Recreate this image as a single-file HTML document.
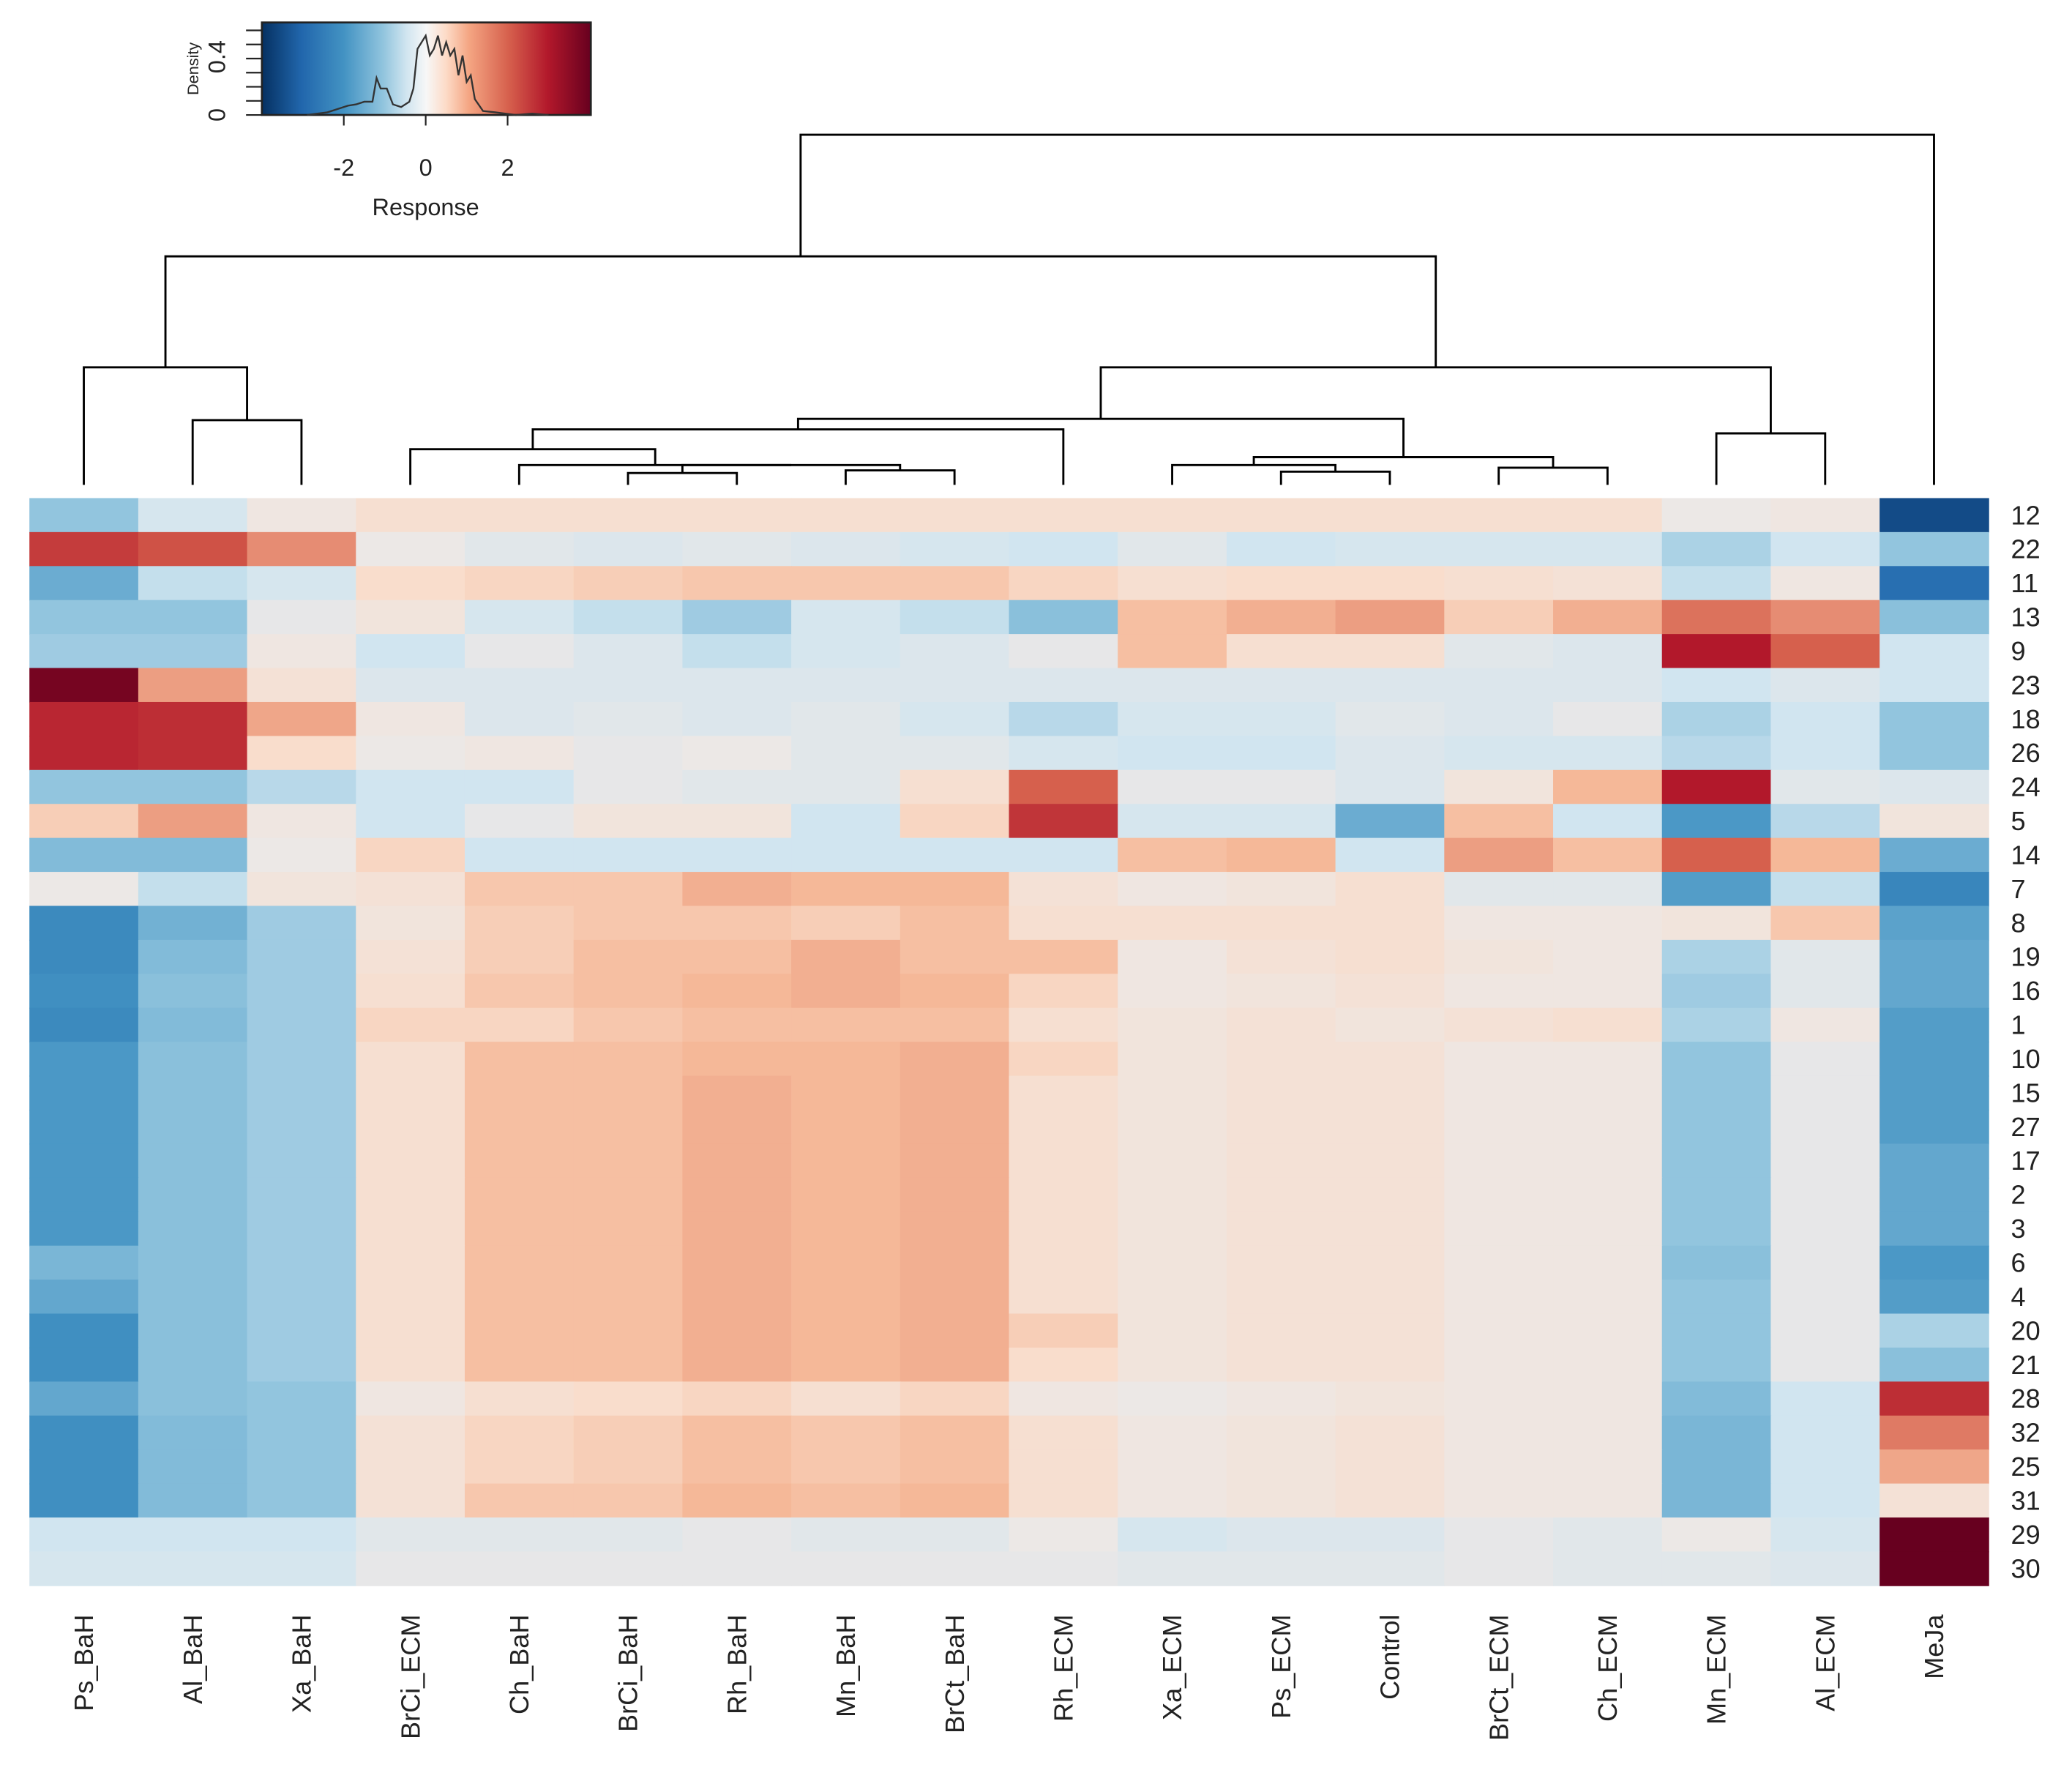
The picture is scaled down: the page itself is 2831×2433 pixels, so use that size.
<!DOCTYPE html>
<html><head><meta charset="utf-8"><style>
html,body{margin:0;padding:0;background:#fff}
svg{display:block;font-family:"Liberation Sans",sans-serif}
</style></head><body>
<svg id="chart" width="2831" height="2433" viewBox="0 0 1568 1348" xmlns="http://www.w3.org/2000/svg">
<defs>
<linearGradient id="grad" x1="0" x2="1" y1="0" y2="0">
<stop offset="0" stop-color="#053061"/><stop offset="0.12" stop-color="#2166ac"/><stop offset="0.25" stop-color="#4393c3"/><stop offset="0.37" stop-color="#92c5de"/><stop offset="0.44" stop-color="#d1e5f0"/><stop offset="0.5" stop-color="#f7f7f7"/><stop offset="0.56" stop-color="#fddbc7"/><stop offset="0.63" stop-color="#f4a582"/><stop offset="0.75" stop-color="#d6604d"/><stop offset="0.87" stop-color="#b2182b"/><stop offset="1" stop-color="#67001f"/>
</linearGradient>
</defs>
<g id="legend"></g>
<g id="dendro"></g>
<g id="cells"></g>
<g id="rowlabels"></g>
<g id="collabels"></g>
</svg>
<script>
const columns=["Ps_BaH","Al_BaH","Xa_BaH","BrCi_ECM","Ch_BaH","BrCi_BaH","Rh_BaH","Mn_BaH","BrCt_BaH","Rh_ECM","Xa_ECM","Ps_ECM","Control","BrCt_ECM","Ch_ECM","Mn_ECM","Al_ECM","MeJa"];
const rows=["12","22","11","13","9","23","18","26","24","5","14","7","8","19","16","1","10","15","27","17","2","3","6","4","20","21","28","32","25","31","29","30"];
const values=[
[-1,-0.4,0.1,0.4,0.4,0.4,0.4,0.4,0.4,0.4,0.4,0.4,0.4,0.4,0.4,0,0.1,-3.5],
[2.5,2.2,1.5,0,-0.2,-0.3,-0.2,-0.3,-0.4,-0.5,-0.2,-0.5,-0.4,-0.4,-0.4,-0.8,-0.5,-1],
[-1.5,-0.6,-0.4,0.5,0.6,0.7,0.8,0.8,0.8,0.6,0.4,0.5,0.5,0.4,0.3,-0.6,0.1,-2.8],
[-1,-1,-0.1,0.2,-0.4,-0.6,-0.9,-0.4,-0.6,-1.1,0.9,1.1,1.3,0.7,1.1,1.8,1.5,-1.1],
[-0.9,-0.9,0.1,-0.5,-0.1,-0.3,-0.6,-0.4,-0.3,-0.1,0.9,0.4,0.4,-0.2,-0.3,3,2,-0.5],
[3.8,1.3,0.3,-0.3,-0.3,-0.3,-0.3,-0.3,-0.3,-0.3,-0.3,-0.3,-0.3,-0.3,-0.3,-0.5,-0.3,-0.5],
[2.8,2.7,1.2,0.1,-0.3,-0.2,-0.3,-0.2,-0.4,-0.7,-0.4,-0.4,-0.2,-0.3,-0.1,-0.8,-0.5,-1],
[2.8,2.7,0.5,0,0.1,-0.1,0,-0.2,-0.2,-0.4,-0.5,-0.5,-0.3,-0.4,-0.4,-0.7,-0.5,-1],
[-1,-1,-0.7,-0.5,-0.5,-0.1,-0.2,-0.2,0.4,2,-0.1,-0.1,-0.3,0.2,1,3,-0.2,-0.3],
[0.7,1.3,0.1,-0.5,-0.1,0.2,0.2,-0.5,0.6,2.6,-0.4,-0.4,-1.5,0.9,-0.5,-1.9,-0.7,0.2],
[-1.2,-1.2,0,0.6,-0.5,-0.5,-0.5,-0.5,-0.5,-0.5,0.9,1,-0.5,1.3,0.9,2,1,-1.5],
[0,-0.6,0.2,0.3,0.8,0.8,1.1,1,1,0.3,0.1,0.2,0.4,-0.2,-0.2,-1.8,-0.6,-2.3],
[-2.2,-1.4,-0.9,0.2,0.7,0.8,0.8,0.7,0.9,0.4,0.4,0.4,0.4,0.1,0.1,0.2,0.8,-1.7],
[-2.2,-1.2,-0.9,0.3,0.7,0.9,0.9,1.1,0.9,0.9,0.1,0.3,0.4,0.2,0.1,-0.8,-0.2,-1.6],
[-2.1,-1.1,-0.9,0.4,0.8,0.9,1,1.1,1,0.6,0.1,0.2,0.3,0.1,0.1,-0.9,-0.2,-1.6],
[-2.2,-1.2,-0.9,0.6,0.6,0.8,0.9,0.9,0.9,0.4,0.2,0.3,0.2,0.3,0.4,-0.8,0.1,-1.8],
[-1.9,-1.1,-0.9,0.4,0.9,0.9,1,1,1.1,0.6,0.2,0.3,0.3,0.1,0.1,-1,-0.1,-1.8],
[-1.9,-1.1,-0.9,0.4,0.9,0.9,1.1,1,1.1,0.4,0.2,0.3,0.3,0.1,0.1,-1,-0.1,-1.8],
[-1.9,-1.1,-0.9,0.4,0.9,0.9,1.1,1,1.1,0.4,0.2,0.3,0.3,0.1,0.1,-1,-0.1,-1.8],
[-1.9,-1.1,-0.9,0.4,0.9,0.9,1.1,1,1.1,0.4,0.2,0.3,0.3,0.1,0.1,-1,-0.1,-1.6],
[-1.9,-1.1,-0.9,0.4,0.9,0.9,1.1,1,1.1,0.4,0.2,0.3,0.3,0.1,0.1,-1,-0.1,-1.6],
[-1.9,-1.1,-0.9,0.4,0.9,0.9,1.1,1,1.1,0.4,0.2,0.3,0.3,0.1,0.1,-1,-0.1,-1.6],
[-1.3,-1.1,-0.9,0.4,0.9,0.9,1.1,1,1.1,0.4,0.2,0.3,0.3,0.1,0.1,-1.1,-0.1,-1.9],
[-1.6,-1.1,-0.9,0.4,0.9,0.9,1.1,1,1.1,0.4,0.2,0.3,0.3,0.1,0.1,-1,-0.1,-1.8],
[-2.1,-1.1,-0.9,0.4,0.9,0.9,1.1,1,1.1,0.7,0.2,0.3,0.3,0.1,0.1,-1,-0.1,-0.8],
[-2.1,-1.1,-0.9,0.4,0.9,0.9,1.1,1,1.1,0.5,0.2,0.3,0.3,0.1,0.1,-1,-0.1,-1.1],
[-1.6,-1.1,-1,0.1,0.4,0.5,0.6,0.4,0.6,0.1,0,0.1,0.2,0.1,0.1,-1.2,-0.5,2.7],
[-2.1,-1.2,-1,0.3,0.6,0.7,0.9,0.8,0.9,0.4,0.1,0.2,0.3,0.1,0.1,-1.3,-0.5,1.7],
[-2.1,-1.2,-1,0.3,0.6,0.7,0.9,0.8,0.9,0.4,0.1,0.2,0.3,0.1,0.1,-1.3,-0.5,1.2],
[-2.1,-1.2,-1,0.3,0.8,0.8,1,0.9,1,0.4,0.1,0.2,0.3,0.1,0.1,-1.3,-0.5,0.3],
[-0.5,-0.5,-0.5,-0.2,-0.2,-0.2,-0.1,-0.2,-0.2,0,-0.4,-0.3,-0.3,-0.1,-0.2,0,-0.4,4],
[-0.4,-0.4,-0.4,-0.1,-0.1,-0.1,-0.1,-0.1,-0.1,-0.1,-0.2,-0.2,-0.2,-0.1,-0.2,-0.2,-0.3,4]
];
const merges=[[1,2,318],[0,18,278],[5,6,358],[7,8,356],[20,21,352],[4,22,352],[3,23,340],[24,9,325],[11,12,357],[10,26,352],[13,14,354],[27,28,346],[25,29,317],[15,16,328],[30,31,278],[19,32,194],[33,17,102]];
const densX=[-2.9,-2.4,-2.1,-1.9,-1.7,-1.5,-1.3,-1.2,-1.1,-0.95,-0.8,-0.6,-0.4,-0.3,-0.2,-0.1,0,0.1,0.2,0.3,0.4,0.5,0.6,0.7,0.8,0.9,1.0,1.1,1.2,1.4,1.7,2.2,2.6,3.0];
const densY=[0,0.02,0.05,0.07,0.08,0.1,0.1,0.28,0.2,0.2,0.08,0.06,0.1,0.2,0.5,0.55,0.6,0.45,0.5,0.6,0.45,0.55,0.45,0.5,0.3,0.45,0.25,0.3,0.12,0.03,0.02,0,0.01,0];

const NS="http://www.w3.org/2000/svg";
function mk(tag,attrs,parent,txt){const e=document.createElementNS(NS,tag);for(const k in attrs)e.setAttribute(k,attrs[k]);if(txt!==undefined)e.textContent=txt;parent.appendChild(e);return e;}
const stops=[[-4,[5,48,97]],[-3,[33,102,172]],[-2,[67,147,195]],[-1,[146,197,222]],[-0.5,[209,229,240]],[0,[236,232,230]],[0.5,[249,221,204]],[1,[245,184,152]],[2,[214,96,77]],[3,[178,24,43]],[4,[103,0,31]]];
function color(v){v=Math.max(-4,Math.min(4,v));for(let i=0;i<stops.length-1;i++){const a=stops[i],b=stops[i+1];if(v<=b[0]){const t=(v-a[0])/(b[0]-a[0]);const c=a[1].map((x,j)=>Math.round(x+(b[1][j]-x)*t));return `rgb(${c})`;}}return "rgb(103,0,31)";}

const X0=22,X1=1505,Y0=377,Y1=1200;
const cw=(X1-X0)/columns.length, rh=(Y1-Y0)/rows.length;
const xs=i=>X0+i*cw, ys=j=>Y0+j*rh;
const cells=document.getElementById('cells');
rows.forEach((r,j)=>columns.forEach((c,i)=>{
  const el=mk('rect',{x:xs(i),y:ys(j),width:cw+0.5,height:rh+0.5,fill:color(values[j][i])},cells);
  
  
}));
const rl=document.getElementById('rowlabels');
rows.forEach((r,j)=>{const t=mk('text',{x:1522,y:ys(j)+rh/2+7,'font-size':20,fill:'#222'},rl,r);
  
  });
const cl=document.getElementById('collabels');
columns.forEach((c,i)=>{const cx=xs(i)+cw/2+7;const t=mk('text',{x:cx,y:1222,'font-size':20,fill:'#222','text-anchor':'end',transform:`rotate(-90 ${cx} 1222)`},cl,c);
  
  });
const dg=document.getElementById('dendro');
const nodes=columns.map((c,i)=>({x:xs(i)+cw/2,h:367}));
merges.forEach(m=>{const a=nodes[m[0]],b=nodes[m[1]],h=m[2];
  const p=mk('path',{d:`M${a.x},${a.h}V${h}H${b.x}V${b.h}`,fill:'none',stroke:'#000','stroke-width':1.6},dg);
  
  
  nodes.push({x:(a.x+b.x)/2,h:h});});
const lg=document.getElementById('legend');
const LX0=198,LX1=447,LY0=17,LY1=87;
const lx=v=>322+v*31, ly=d=>LY1-d*100;
const gr=mk('rect',{x:LX0,y:LY0,width:LX1-LX0,height:LY1-LY0,fill:'url(#grad)',stroke:'#222','stroke-width':1.5},lg);


const dl=mk('polyline',{points:densX.map((x,i)=>lx(x)+','+ly(densY[i])).join(' '),fill:'none',stroke:'#333','stroke-width':1.3},lg);


[-2,0,2].forEach(v=>{mk('line',{x1:lx(v),x2:lx(v),y1:LY1,y2:LY1+8,stroke:'#222','stroke-width':1.2},lg);
  const t=mk('text',{x:lx(v),y:133,'font-size':18,'text-anchor':'middle',fill:'#222'},lg,String(v));
  
  });
for(let k=0;k<=6;k++){const y=LY1-k*(LY1-LY0-6)/6;mk('line',{x1:LX0-12,x2:LX0,y1:y,y2:y,stroke:'#222','stroke-width':1.2},lg);}
[[0,'0'],[0.4,'0.4']].forEach(([d,s])=>{const y=LY1-d*110;const t=mk('text',{x:170,y:y,'font-size':18,'text-anchor':'middle',fill:'#222',transform:`rotate(-90 170 ${y})`},lg,s);
  
  });
const dt=mk('text',{x:150,y:52,'font-size':12,'text-anchor':'middle',fill:'#222',transform:'rotate(-90 150 52)'},lg,'Density');


const rt=mk('text',{x:322,y:163,'font-size':18,'text-anchor':'middle',fill:'#222'},lg,'Response');


</script>
</body></html>
